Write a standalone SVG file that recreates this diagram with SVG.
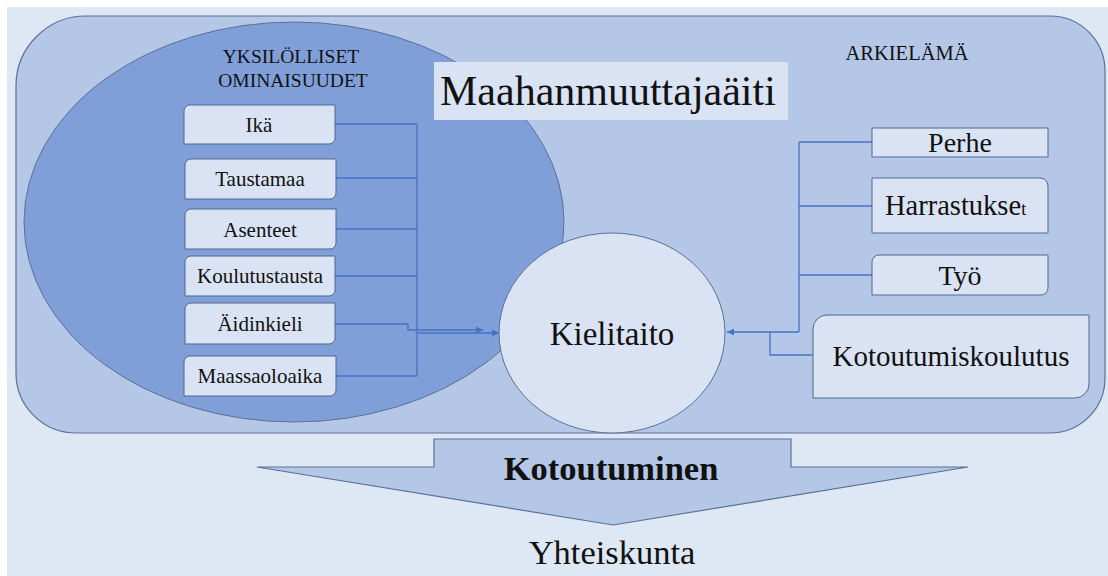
<svg xmlns="http://www.w3.org/2000/svg" width="1108" height="576" viewBox="0 0 1108 576">
<style>
.t{font-family:"Liberation Serif","Times New Roman",serif;fill:#111;}
.c{text-anchor:middle;}
.box{fill:#dae3f3;stroke:#4f6890;stroke-width:1;}
.con{fill:none;stroke:#4472c4;stroke-width:1.3;}
</style>
<defs>
<marker id="ah" viewBox="0 0 10 10" refX="10" refY="5" markerWidth="8" markerHeight="7" markerUnits="userSpaceOnUse" orient="auto">
<path d="M0,0 L10,5 L0,10 z" fill="#4472c4"/>
</marker>
</defs>
<rect x="0" y="0" width="1108" height="576" fill="#ffffff"/>
<rect x="7" y="7" width="1101" height="569" fill="#dee8f4"/>
<g id="arkielama">
<path d="M86,16 H1050 A55,55 0 0 1 1105,71 V378 A55,55 0 0 1 1050,433 H76 A60,60 0 0 1 16,373 V86 A70,70 0 0 1 86,16 Z" fill="#b4c7e7" stroke="#5b7096" stroke-width="1.2"/>
<text class="t c" x="907" y="60" font-size="20.5">ARKIELÄMÄ</text>
</g>
<g id="yksilolliset">
<ellipse cx="294" cy="222" rx="270" ry="200" fill="#809fd8" stroke="#5b7096" stroke-width="1"/>
<text class="t c" x="291" y="63" font-size="19.5">YKSILÖLLISET</text>
<text class="t c" x="293" y="87" font-size="19.5">OMINAISUUDET</text>
</g>
<g id="maahanmuuttajaaiti">
<rect x="434" y="62" width="354" height="58" fill="#dae3f3"/>
<text class="t" x="440" y="105" font-size="42">Maahanmuuttajaäiti</text>
</g>
<g id="connectors">
<path class="con" d="M335,124 H417 M336,178 H417 M336,229 H417 M335,276 H417 M336,376 H417 M417,124 V376"/>
<path class="con" d="M335,324 H408 V330 H483" marker-end="url(#ah)"/>
<path class="con" d="M417,333 H499" marker-end="url(#ah)"/>
<path class="con" d="M872,142 H799 M872,206 H799 M872,275 H799 M799,142 V332 M813,355 H770 V332"/>
<path class="con" d="M799,332 H727" marker-end="url(#ah)"/>
</g>
<g id="kielitaito">
<ellipse cx="612" cy="333" rx="113" ry="100" fill="#dae3f3" stroke="#5b7096" stroke-width="1"/>
<text class="t c" x="612" y="345" font-size="33">Kielitaito</text>
</g>
<g id="ika">
<path class="box" d="M190,105 H335 V138 A6,6 0 0 1 329,144 H184 V111 A6,6 0 0 1 190,105 Z"/>
<text class="t c" x="259" y="132" font-size="21">Ikä</text>
</g>
<g id="taustamaa">
<path class="box" d="M191,159 H336 V193 A6,6 0 0 1 330,199 H185 V165 A6,6 0 0 1 191,159 Z"/>
<text class="t c" x="260" y="186" font-size="21">Taustamaa</text>
</g>
<g id="asenteet">
<path class="box" d="M191,209 H336 V243 A6,6 0 0 1 330,249 H185 V215 A6,6 0 0 1 191,209 Z"/>
<text class="t c" x="260" y="237" font-size="21">Asenteet</text>
</g>
<g id="koulutustausta">
<path class="box" d="M191,256 H335 V290 A6,6 0 0 1 329,296 H185 V262 A6,6 0 0 1 191,256 Z"/>
<text class="t c" x="260" y="283" font-size="21">Koulutustausta</text>
</g>
<g id="aidinkieli">
<path class="box" d="M191,303 H335 V338 A6,6 0 0 1 329,344 H185 V309 A6,6 0 0 1 191,303 Z"/>
<text class="t c" x="260" y="331" font-size="21">Äidinkieli</text>
</g>
<g id="maassaoloaika">
<path class="box" d="M190,356 H336 V390 A6,6 0 0 1 330,396 H184 V362 A6,6 0 0 1 190,356 Z"/>
<text class="t c" x="260" y="383" font-size="21">Maassaoloaika</text>
</g>
<g id="perhe">
<rect class="box" x="872" y="128" width="176" height="29"/>
<text class="t c" x="960" y="152" font-size="28">Perhe</text>
</g>
<g id="harrastukset">
<path class="box" d="M872,178 H1040 A8,8 0 0 1 1048,186 V233 H872 Z"/>
<text class="t" x="885" y="215" font-size="28.5">Harrastukse<tspan font-size="18">t</tspan></text>
</g>
<g id="tyo">
<path class="box" d="M879,255 H1048 V288 A7,7 0 0 1 1041,295 H872 V262 A7,7 0 0 1 879,255 Z"/>
<text class="t c" x="960" y="285" font-size="28">Työ</text>
</g>
<g id="kotoutumiskoulutus">
<path class="box" d="M827,315 H1089 V384 A14,14 0 0 1 1075,398 H813 V329 A14,14 0 0 1 827,315 Z"/>
<text class="t c" x="951" y="366" font-size="29">Kotoutumiskoulutus</text>
</g>
<g id="kotoutuminen">
<polygon points="434,439 791,439 791,467 968,467 613,525 257,467 434,467" fill="#b4c7e7" stroke="#5b7096" stroke-width="1.2"/>
<text class="t c" x="611" y="480" font-size="34.5" font-weight="bold">Kotoutuminen</text>
</g>
<g id="yhteiskunta">
<text class="t c" x="612" y="564" font-size="34.5">Yhteiskunta</text>
</g>
</svg>
